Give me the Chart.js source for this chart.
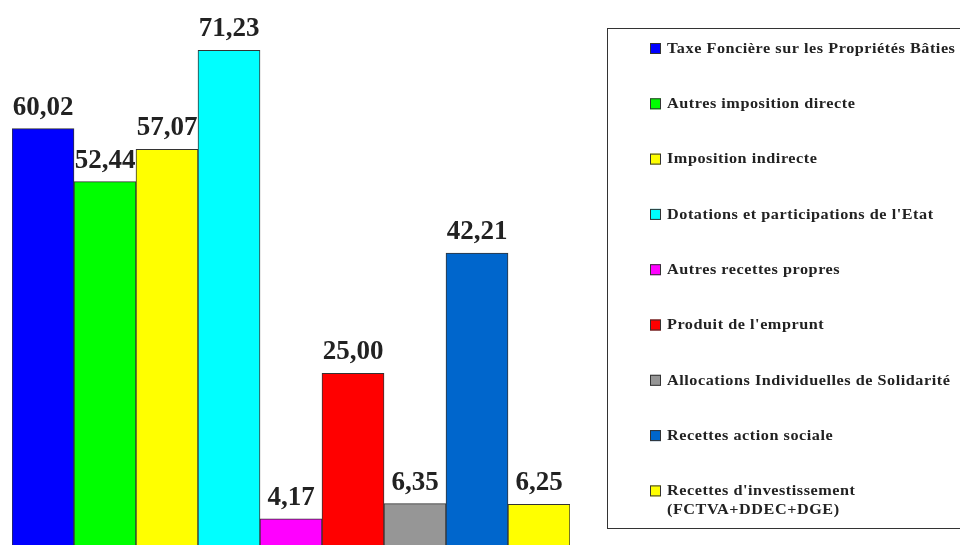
<!DOCTYPE html>
<html>
<head>
<meta charset="utf-8">
<script src="https://cdn.jsdelivr.net/npm/chart.js@4.4.0/dist/chart.umd.min.js"></script>
<style>
  html, body { margin: 0; padding: 0; background: #fff; overflow: hidden; }
  #wrap { width: 960px; height: 545px; position: relative; }
</style>
</head>
<body>
<div id="wrap"><canvas id="chart" width="960" height="545"></canvas></div>
<script>
  "use strict";

  const categories = [
    "Taxe Foncière sur les Propriétés Bâties",
    "Autres imposition directe",
    "Imposition indirecte",
    "Dotations et participations de l'Etat",
    "Autres recettes propres",
    "Produit de l'emprunt",
    "Allocations Individuelles de Solidarité",
    "Recettes action sociale",
    ["Recettes d'investissement", "(FCTVA+DDEC+DGE)"]
  ];
  const values = [60.02, 52.44, 57.07, 71.23, 4.17, 25.00, 6.35, 42.21, 6.25];
  const colors = ["#0000ff", "#00ff00", "#ffff00", "#00ffff", "#ff00ff", "#ff0000", "#969696", "#0066cc", "#ffff00"];

  const serif = '"Liberation Serif", "Times New Roman", serif';

  // value above each bar, with a comma as decimal separator
  const valueLabels = {
    id: "valueLabels",
    afterDatasetsDraw(chart) {
      const ctx = chart.ctx;
      const meta = chart.getDatasetMeta(0);
      ctx.save();
      ctx.font = "bold 27px " + serif;
      ctx.fillStyle = "#222";
      ctx.textAlign = "center";
      ctx.textBaseline = "alphabetic";
      meta.data.forEach((bar, i) => {
        ctx.fillText(values[i].toFixed(2).replace(".", ","), bar.x, bar.y - 14);
      });
      ctx.restore();
    }
  };

  // boxed legend on the right, one row per category
  const sideLegend = {
    id: "sideLegend",
    afterDraw(chart) {
      const ctx = chart.ctx;
      ctx.save();
      ctx.strokeStyle = "#333";
      ctx.lineWidth = 1;
      ctx.strokeRect(607.5, 28.5, 360, 500);
      ctx.font = "bold 15px " + serif;
      ctx.letterSpacing = "0.5px";
      ctx.textBaseline = "middle";
      categories.forEach((label, i) => {
        const cy = 48 + i * 55.3;
        ctx.fillStyle = colors[i];
        ctx.fillRect(650, cy - 5, 11, 11);
        ctx.strokeStyle = "#333";
        ctx.strokeRect(650.5, cy - 4.5, 10, 10);
        ctx.fillStyle = "#222";
        const lines = Array.isArray(label) ? label : [label];
        lines.forEach((t, j) => {
          ctx.save();
          ctx.translate(667, cy + 1 + j * 19);
          ctx.scale(1.08, 1);
          ctx.fillText(t, 0, 0);
          ctx.restore();
        });
      });
      ctx.restore();
    }
  };

  new Chart(document.getElementById("chart").getContext("2d"), {
    type: "bar",
    data: {
      labels: categories,
      datasets: [{
        data: values,
        backgroundColor: colors,
        borderColor: "#333",
        borderWidth: 1,
        barPercentage: 1,
        categoryPercentage: 1
      }]
    },
    options: {
      responsive: false,
      animation: false,
      layout: { padding: { left: 12, right: 390, top: 0, bottom: 0 } },
      plugins: {
        legend: { display: false },
        tooltip: { enabled: false }
      },
      scales: {
        x: { display: false },
        y: { display: false, min: 0.43, max: 78.43 }
      }
    },
    plugins: [valueLabels, sideLegend]
  });
</script>
</body>
</html>
